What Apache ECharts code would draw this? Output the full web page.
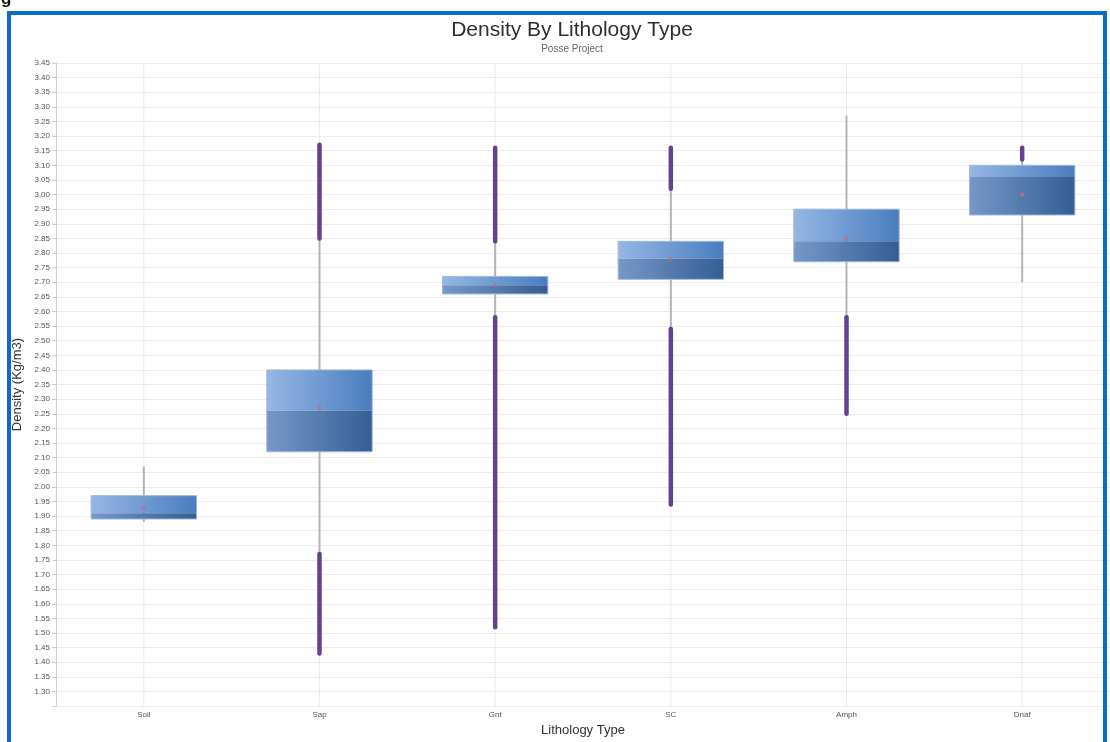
<!DOCTYPE html>
<html>
<head>
<meta charset="utf-8">
<script src="https://cdn.jsdelivr.net/npm/echarts@6/dist/echarts.min.js"></script>
<style>
  html, body { margin: 0; padding: 0; background: #fff; }
  #wrap { position: relative; width: 1110px; height: 742px; overflow: hidden; }
  #chart { position: absolute; left: 0; top: 0; width: 1110px; height: 742px; }
  #frame { position: absolute; left: 7px; top: 11px; width: 1092px; height: 760px;
           border: 4px solid #0a6fc4; pointer-events: none; }
  #cap { position: absolute; left: 1px; top: -11px; font: bold 17px "Liberation Sans", Arial, sans-serif; color: #111; }
</style>
</head>
<body>
<div id="wrap">
  <div id="chart"></div>
  <div id="frame"></div>
  <div id="cap">g</div>
</div>
<script>
// ---- data ----
const categories = ['Soil', 'Sap', 'Gnt', 'SC', 'Amph', 'Dnaf'];
const whiskerLow  = [1.88, 1.77, 2.58, 2.54, 2.58, 2.70];
const q1          = [1.89, 2.12, 2.66, 2.71, 2.77, 2.93];
const median      = [1.91, 2.26, 2.69, 2.78, 2.84, 3.06];
const q3          = [1.97, 2.40, 2.72, 2.84, 2.95, 3.10];
const whiskerHigh = [2.07, 2.85, 2.84, 3.02, 3.27, 3.12];
const meanValues  = [1.93, 2.27, 2.69, 2.78, 2.85, 3.00];
// dense outlier runs: [category index, from, to]
const outlierRuns = [
  [1, 2.85, 3.17], [1, 1.43, 1.77],
  [2, 2.84, 3.16], [2, 1.52, 2.58],
  [3, 3.02, 3.16], [3, 1.94, 2.54],
  [4, 2.25, 2.58],
  [5, 3.12, 3.16]
];
const yMin = 1.25, yMax = 3.45, yStep = 0.05;

const FONT = '"Liberation Sans", Arial, sans-serif';
const chart = echarts.init(document.getElementById('chart'));

const boxData = categories.map((c, i) => [i, q1[i], median[i], q3[i]]);
const whiskerData = categories.map((c, i) => [i, whiskerLow[i], whiskerHigh[i]]);
const meanData = categories.map((c, i) => [i, meanValues[i]]);
const gridData = categories.map((c, i) => [i]);

const option = {
  animation: false,
  backgroundColor: '#fff',
  title: {
    text: 'Density By Lithology Type',
    subtext: 'Posse Project',
    left: 567, top: 15, textAlign: 'center', itemGap: 3,
    textStyle: { fontFamily: FONT, fontSize: 21, fontWeight: 'normal', color: '#2e2e2e' },
    subtextStyle: { fontFamily: FONT, fontSize: 10, color: '#666' }
  },
  grid: { left: 56, right: -10, top: 63, bottom: 32, containLabel: false },
  xAxis: {
    type: 'category', data: categories, boundaryGap: true,
    axisLine: { show: false }, axisTick: { show: false }, splitLine: { show: false },
    axisLabel: { fontFamily: FONT, fontSize: 8, color: '#555', margin: 5 },
    name: 'Lithology Type', nameLocation: 'middle', nameGap: 17,
    nameTextStyle: { fontFamily: FONT, fontSize: 13, color: '#333' }
  },
  yAxis: {
    type: 'value', min: yMin, max: yMax, interval: yStep,
    axisLine: { show: true, lineStyle: { color: '#cfcfcf' } },
    axisTick: { show: true, length: 4, lineStyle: { color: '#cfcfcf' } },
    splitLine: { show: true, lineStyle: { color: '#ececec' } },
    axisLabel: {
      fontFamily: FONT, fontSize: 8, color: '#555', margin: 6,
      formatter: v => (v < yMin + yStep / 2 ? '' : Number(v).toFixed(2))
    },
    name: 'Density (Kg/m3)', nameLocation: 'middle', nameGap: 29,
    nameTextStyle: { fontFamily: FONT, fontSize: 13, color: '#333' }
  },
  series: [
    { // vertical gridlines at category centres
      type: 'custom', silent: true, z: 1,
      data: gridData,
      renderItem: (params, api) => {
        const cs = params.coordSys;
        const x = api.coord([api.value(0), yMax])[0];
        return { type: 'line', shape: { x1: x, y1: cs.y, x2: x, y2: cs.y + cs.height },
                 style: { stroke: '#ececec', lineWidth: 1 } };
      }
    },
    { // whiskers
      type: 'custom', silent: true, z: 2,
      data: whiskerData,
      renderItem: (params, api) => {
        const a = api.coord([api.value(0), api.value(1)]);
        const b = api.coord([api.value(0), api.value(2)]);
        return { type: 'line', shape: { x1: a[0], y1: a[1], x2: b[0], y2: b[1] },
                 style: { stroke: '#b4b4b4', lineWidth: 2 } };
      }
    },
    { // outlier runs
      type: 'custom', silent: true, z: 3,
      data: outlierRuns,
      renderItem: (params, api) => {
        const a = api.coord([api.value(0), api.value(1)]);
        const b = api.coord([api.value(0), api.value(2)]);
        return { type: 'line', shape: { x1: a[0], y1: a[1], x2: b[0], y2: b[1] },
                 style: { stroke: '#63428f', lineWidth: 4.5, lineCap: 'round' } };
      }
    },
    { // boxes
      type: 'custom', silent: true, z: 4,
      data: boxData,
      renderItem: (params, api) => {
        const i = api.value(0);
        const pQ1 = api.coord([i, api.value(1)]);
        const pMed = api.coord([i, api.value(2)]);
        const pQ3 = api.coord([i, api.value(3)]);
        const w = api.size([1, 0])[0] * 0.6;
        const x = pQ1[0] - w / 2;
        return {
          type: 'group',
          children: [
            { type: 'rect', shape: { x: x, y: pQ3[1], width: w, height: pMed[1] - pQ3[1] },
              style: { fill: new echarts.graphic.LinearGradient(0, 0, 1, 0, [
                { offset: 0, color: '#95b7e3' }, { offset: 1, color: '#4a7dbf' }]) } },
            { type: 'rect', shape: { x: x, y: pMed[1], width: w, height: pQ1[1] - pMed[1] },
              style: { fill: new echarts.graphic.LinearGradient(0, 0, 1, 0, [
                { offset: 0, color: '#7698c8' }, { offset: 1, color: '#345e93' }]) } },
            { type: 'rect', shape: { x: x, y: pQ3[1], width: w, height: pQ1[1] - pQ3[1] },
              style: { fill: 'none', stroke: '#9fb8da', lineWidth: 1 } }
          ]
        };
      }
    },
    { // means
      type: 'scatter', silent: true, z: 5,
      data: meanData, symbol: 'circle', symbolSize: 4,
      itemStyle: { color: '#c46a86' }
    }
  ]
};
chart.setOption(option);
</script>
</body>
</html>
